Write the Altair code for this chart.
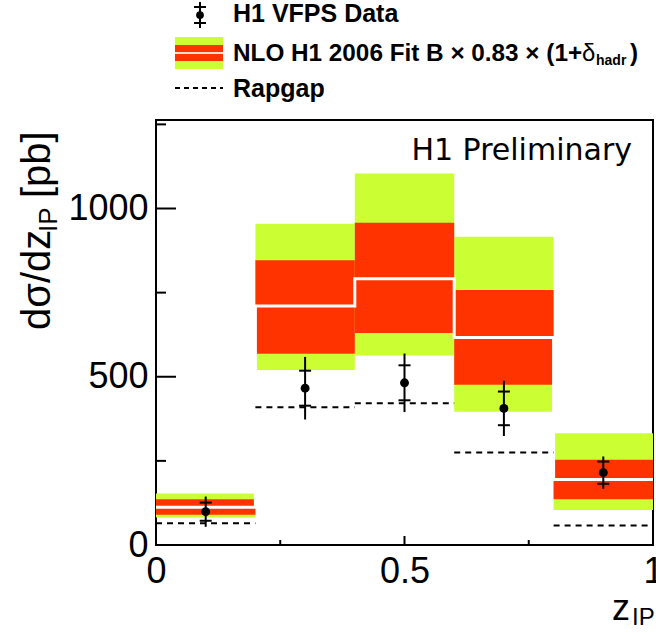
import altair as alt
import pandas as pd

# ---------------- data ----------------
bin_lo = [0.0, 0.2, 0.4, 0.6, 0.8]
bin_hi = [0.2, 0.4, 0.6, 0.8, 1.0]
bin_mid = [0.1, 0.3, 0.5, 0.7, 0.9]

nlo_central = [112, 710, 791, 617, 195]
nlo_scale_lo = [90, 568, 630, 476, 136]
nlo_scale_hi = [136, 846, 958, 758, 253]
nlo_tot_lo = [82, 520, 563, 396, 104]
nlo_tot_hi = [153, 955, 1104, 916, 332]

rapgap = [65, 409, 421, 275, 58]

data_val = [99, 466, 482, 406, 215]
data_stat = [27, 52, 52, 50, 33]
data_tot = [45, 93, 87, 82, 48]

y_major = [500, 1000]
y_minor = [250, 750, 1250]
x_major = [0.5]
x_minor = [0.25, 0.75]
y_labels = [0, 500, 1000]
x_labels = [0, 0.5, 1]

W, H = 497, 425
YMAX = 1263

df = pd.DataFrame({
    "lo": bin_lo, "hi": bin_hi, "mid": bin_mid,
    "c": nlo_central, "s_lo": nlo_scale_lo, "s_hi": nlo_scale_hi,
    "t_lo": nlo_tot_lo, "t_hi": nlo_tot_hi, "rap": rapgap,
    "v": data_val,
})
df["stat_lo"] = [v - s for v, s in zip(data_val, data_stat)]
df["stat_hi"] = [v + s for v, s in zip(data_val, data_stat)]
df["tot_lo"] = [v - t for v, t in zip(data_val, data_tot)]
df["tot_hi"] = [v + t for v, t in zip(data_val, data_tot)]

# step polyline for NLO central value
step_rows = []
k = 0
for lo, hi, c in zip(bin_lo, bin_hi, nlo_central):
    step_rows.append({"x": lo, "y": c, "o": k}); k += 1
    step_rows.append({"x": hi, "y": c, "o": k}); k += 1
df_step = pd.DataFrame(step_rows)

xs = alt.Scale(domain=[0, 1], nice=False, zero=False)
ys = alt.Scale(domain=[0, YMAX], nice=False, zero=False)
FONT = "Liberation Sans"

x_axis = alt.Axis(values=x_labels, format=".1~f", tickSize=0, domain=False, grid=False,
                  labelFontSize=36, labelFont=FONT, labelColor="black", labelPadding=9,
                  labelFlush=False, labelOverlap=False, labelBound=False)
y_axis = alt.Axis(values=y_labels, format="d", tickSize=0, domain=False, grid=False,
                  labelFontSize=36, labelFont=FONT, labelColor="black", labelPadding=8,
                  labelOverlap=False, labelBound=False)

base = alt.Chart(df)

yellow = base.mark_rect(color="#CCFF33").encode(
    x=alt.X("lo:Q", scale=xs, axis=x_axis, title=None),
    x2="hi:Q",
    y=alt.Y("t_lo:Q", scale=ys, axis=y_axis, title=None),
    y2="t_hi:Q",
)
red = base.mark_rect(color="#FF3300").encode(
    x=alt.X("lo:Q", title=None), x2="hi:Q",
    y=alt.Y("s_lo:Q", title=None), y2="s_hi:Q",
)
central = alt.Chart(df_step).mark_line(color="white", strokeWidth=3).encode(
    x=alt.X("x:Q", title=None), y=alt.Y("y:Q", title=None), order="o:Q",
)
rap = base.mark_rule(color="black", strokeWidth=2, strokeDash=[6, 5]).encode(
    x=alt.X("lo:Q", title=None), x2="hi:Q", y=alt.Y("rap:Q", title=None),
)
err = base.mark_rule(color="black", strokeWidth=2).encode(
    x=alt.X("mid:Q", title=None), y=alt.Y("tot_lo:Q", title=None), y2="tot_hi:Q",
)
tick_lo = base.mark_rule(color="black", strokeWidth=2, xOffset=-6, x2Offset=6).encode(
    x=alt.X("mid:Q", title=None), x2="mid:Q", y=alt.Y("stat_lo:Q", title=None),
)
tick_hi = base.mark_rule(color="black", strokeWidth=2, xOffset=-6, x2Offset=6).encode(
    x=alt.X("mid:Q", title=None), x2="mid:Q", y=alt.Y("stat_hi:Q", title=None),
)
pts = base.mark_circle(color="black", opacity=1, size=80).encode(
    x=alt.X("mid:Q", title=None), y=alt.Y("v:Q", title=None),
)

# inward axis ticks
ymaj = alt.Chart(pd.DataFrame({"t": y_major})).mark_rule(color="black", strokeWidth=2).encode(
    y=alt.Y("t:Q", title=None), x=alt.value(0), x2=alt.value(20))
ymin = alt.Chart(pd.DataFrame({"t": y_minor})).mark_rule(color="black", strokeWidth=2).encode(
    y=alt.Y("t:Q", title=None), x=alt.value(0), x2=alt.value(10))
xmaj = alt.Chart(pd.DataFrame({"t": x_major})).mark_rule(color="black", strokeWidth=2).encode(
    x=alt.X("t:Q", title=None), y=alt.value(H), y2=alt.value(H - 9))
xmin = alt.Chart(pd.DataFrame({"t": x_minor})).mark_rule(color="black", strokeWidth=2).encode(
    x=alt.X("t:Q", title=None), y=alt.value(H), y2=alt.value(H - 5))

one = pd.DataFrame({"a": [0]})


def txt(s, x, y, size, bold=False, font=FONT, align="left", baseline="alphabetic", angle=0):
    kw = dict(text=s, fontSize=size, font=font, align=align, baseline=baseline,
              color="black", fontWeight="bold" if bold else "normal")
    if angle:
        kw["angle"] = angle
    return alt.Chart(one).mark_text(**kw).encode(x=alt.value(x), y=alt.value(y))


def rect(x1, x2, y1, y2, color):
    return alt.Chart(one).mark_rect(color=color).encode(
        x=alt.value(x1), x2=alt.value(x2), y=alt.value(y1), y2=alt.value(y2))


def hrule(x1, x2, y, color="black", width=2, dash=None):
    kw = dict(color=color, strokeWidth=width)
    if dash:
        kw["strokeDash"] = dash
    return alt.Chart(one).mark_rule(**kw).encode(
        x=alt.value(x1), x2=alt.value(x2), y=alt.value(y))


def vrule(x, y1, y2):
    return alt.Chart(one).mark_rule(color="black", strokeWidth=2).encode(
        x=alt.value(x), y=alt.value(y1), y2=alt.value(y2))


legend = [
    # data entry
    vrule(44, -118, -92), hrule(38, 50, -113), hrule(38, 50, -97),
    alt.Chart(one).mark_circle(color="black", opacity=1, size=60).encode(
        x=alt.value(44), y=alt.value(-105)),
    txt("H1 VFPS Data", 77, -98, 25, bold=True),
    # NLO entry
    rect(19, 67, -83, -51, "#CCFF33"), rect(19, 67, -75, -59, "#FF3300"),
    hrule(19, 67, -67, color="#FFDDCC", width=2),
    txt("NLO H1 2006 Fit B \u00d7 0.83 \u00d7 (1+", 77, -59, 24.3, bold=True),
    txt("\u03b4", 426, -59, 24),
    txt("hadr", 440, -55, 14, bold=True),
    txt(")", 474, -59, 24.3, bold=True),
    # Rapgap entry
    hrule(19, 67, -32, dash=[5, 4]),
    txt("Rapgap", 77, -23, 25, bold=True),
]

annot = [
    txt("H1 Preliminary", 476, 40, 30, font="DejaVu Sans", align="right"),
    # x title
    txt("z", 456, 500, 36),
    txt("IP", 476, 505, 24),
    # y title (rotated)
    txt("d\u03c3/dz", -106, 210, 40, angle=270),
    txt("IP", -99, 112, 26, angle=270),
    txt("[pb]", -106, 78, 40, angle=270),
]

chart = alt.layer(
    yellow, red, central, rap, err, tick_lo, tick_hi, pts,
    ymaj, ymin, xmaj, xmin, *legend, *annot,
).properties(
    width=W, height=H,
    autosize=alt.AutoSizeParams(type="none"),
    padding={"left": 156, "top": 120, "right": 3, "bottom": 88},
).configure_view(stroke="black", strokeWidth=2)

chart.save("out.html", embed_options={"renderer": "svg", "actions": False})
